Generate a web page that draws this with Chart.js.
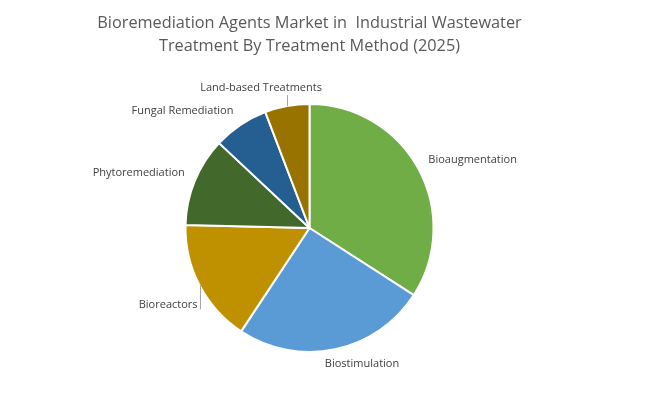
<!DOCTYPE html>
<html>
<head>
  <title>Bioremediation Agents Market</title>
  <script src="https://cdn.jsdelivr.net/npm/chart.js"></script>
  <style>
    html, body { margin: 0; padding: 0; background: #fff; }
    #wrap { width: 646px; height: 412px; }
  </style>
</head>
<body>
  <div id="wrap"><canvas id="chart" width="646" height="412"></canvas></div>

  <script>
    var methods = ['Bioaugmentation', 'Biostimulation', 'Bioreactors', 'Phytoremediation', 'Fungal Remediation', 'Land-based Treatments'];
    var shares = [34.1, 25.2, 16.1, 11.6, 7.2, 5.8];
    var sliceColors = ['#70AD47', '#5B9BD5', '#BF9000', '#43682B', '#255E91', '#997300'];

    // label placement relative to the slice's outer edge point (Excel "best fit" look)
    var labelPlace = [
      { dx: 10, dy: -9, align: 'left' },
      { dx: 27, dy: 15, align: 'center' },
      { dx: -2, dy: 20, align: 'right', leader: true },
      { dx: -10, dy: -8, align: 'right' },
      { dx: -7, dy: -14, align: 'right' },
      { dx: -26, dy: -18, align: 'center', leader: true }
    ];

    var outsideLabels = {
      id: 'outsideLabels',
      afterDatasetsDraw: function (chart) {
        var c = chart.ctx;
        var arcs = chart.getDatasetMeta(0).data;
        c.save();
        c.font = '11px "Open Sans", Calibri, sans-serif';
        c.fillStyle = '#404040';
        c.textBaseline = 'middle';
        arcs.forEach(function (arc, i) {
          var p = arc.getProps(['x', 'y', 'startAngle', 'endAngle', 'outerRadius'], true);
          var mid = (p.startAngle + p.endAngle) / 2;
          var ex = p.x + Math.cos(mid) * p.outerRadius;
          var ey = p.y + Math.sin(mid) * p.outerRadius;
          var pl = labelPlace[i];
          var lx = ex + pl.dx, ly = ey + pl.dy;
          if (pl.leader) {
            c.strokeStyle = '#A6A6A6';
            c.lineWidth = 1;
            c.beginPath();
            c.moveTo(Math.round(ex) + 0.5, ey);
            c.lineTo(Math.round(ex) + 0.5, ly + (pl.dy > 0 ? 4 : 7));
            c.stroke();
          }
          c.textAlign = pl.align;
          c.fillText(methods[i], lx, ly);
        });
        c.restore();
      }
    };

    var ctx = document.getElementById('chart').getContext('2d');
    var chart = new Chart(ctx, {
      type: 'pie',
      data: {
        labels: methods,
        datasets: [{
          data: shares,
          backgroundColor: sliceColors,
          borderColor: '#ffffff',
          borderWidth: 2
        }]
      },
      options: {
        responsive: false,
        animation: false,
        layout: { padding: { left: 0, right: 27, top: 0, bottom: 59 } },
        plugins: {
          legend: { display: false },
          tooltip: { enabled: false },
          title: {
            display: true,
            text: ['Bioremediation Agents Market in  Industrial Wastewater', 'Treatment By Treatment Method (2025)'],
            color: '#595959',
            font: { family: '"Open Sans", Calibri, sans-serif', size: 16.3, weight: 'normal', lineHeight: 1.411 },
            padding: { top: 11.5, bottom: 45.5 }
          }
        }
      },
      plugins: [outsideLabels]
    });
  </script>
</body>
</html>
